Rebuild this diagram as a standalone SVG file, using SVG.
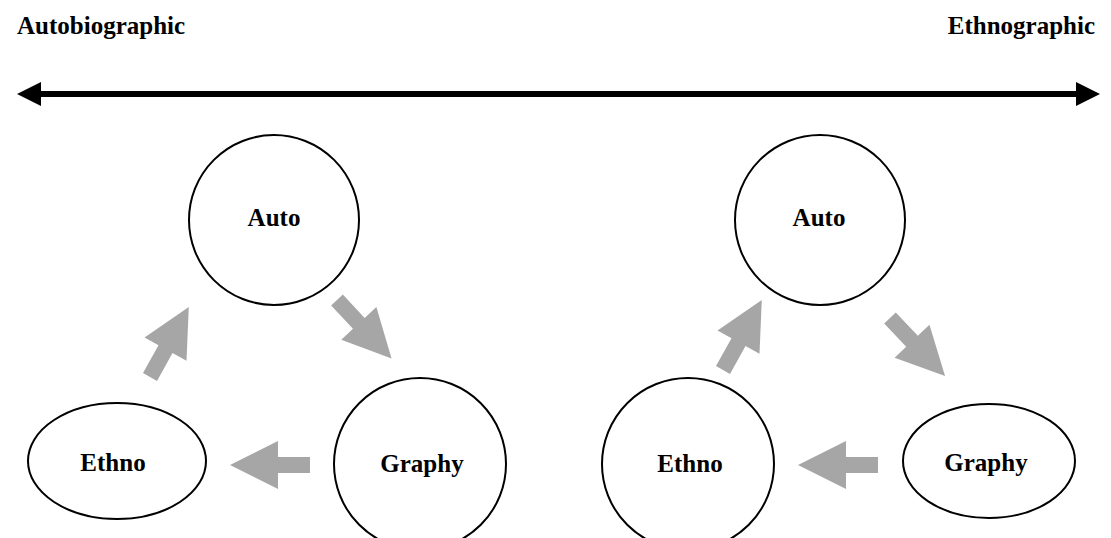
<svg xmlns="http://www.w3.org/2000/svg" width="1111" height="538" viewBox="0 0 1111 538">
<defs>
<style>
.lbl{font-family:"Liberation Serif","Times New Roman",serif;font-weight:bold;font-size:25px;fill:#000}
.nd{fill:#fff;stroke:#000;stroke-width:2}
.ga{fill:#a6a6a6}
</style>
<polygon id="ba" points="0,-8 32,-8 32,-24 80,0 32,24 32,8 0,8"/>
</defs>
<rect width="1111" height="538" fill="#fff"/>
<g id="header">
<text class="lbl" x="17" y="34">Autobiographic</text>
<text class="lbl" x="1095" y="34" text-anchor="end">Ethnographic</text>
</g>
<g id="connectors">
<g id="axis">
<line x1="38" y1="94" x2="1080" y2="94" stroke="#000" stroke-width="6"/>
<polygon points="17,94 41,82 41,106" fill="#000"/>
<polygon points="1100,94 1076,82 1076,106" fill="#000"/>
</g>
<use href="#ba" class="ga" transform="translate(150,377) rotate(-61)"/>
<use href="#ba" class="ga" transform="translate(337,300) rotate(47)"/>
<use href="#ba" class="ga" transform="translate(310,465) rotate(180)"/>
<use href="#ba" class="ga" transform="translate(723,370) rotate(-61)"/>
<use href="#ba" class="ga" transform="translate(890,318) rotate(46.5)"/>
<use href="#ba" class="ga" transform="translate(878,465) rotate(180)"/>
</g>
<g id="left-auto"><circle class="nd" cx="274" cy="220" r="85"/><text class="lbl" x="274" y="226" text-anchor="middle">Auto</text></g>
<g id="left-ethno"><ellipse class="nd" cx="117" cy="461" rx="89" ry="58"/><text class="lbl" x="113" y="471" text-anchor="middle">Ethno</text></g>
<g id="left-graphy"><circle class="nd" cx="420" cy="464" r="86"/><text class="lbl" x="422" y="472" text-anchor="middle">Graphy</text></g>
<g id="right-auto"><circle class="nd" cx="820" cy="220" r="85"/><text class="lbl" x="819" y="226" text-anchor="middle">Auto</text></g>
<g id="right-ethno"><circle class="nd" cx="688" cy="464" r="86"/><text class="lbl" x="690" y="472" text-anchor="middle">Ethno</text></g>
<g id="right-graphy"><ellipse class="nd" cx="989" cy="461" rx="86" ry="57"/><text class="lbl" x="986" y="471" text-anchor="middle">Graphy</text></g>
</svg>
